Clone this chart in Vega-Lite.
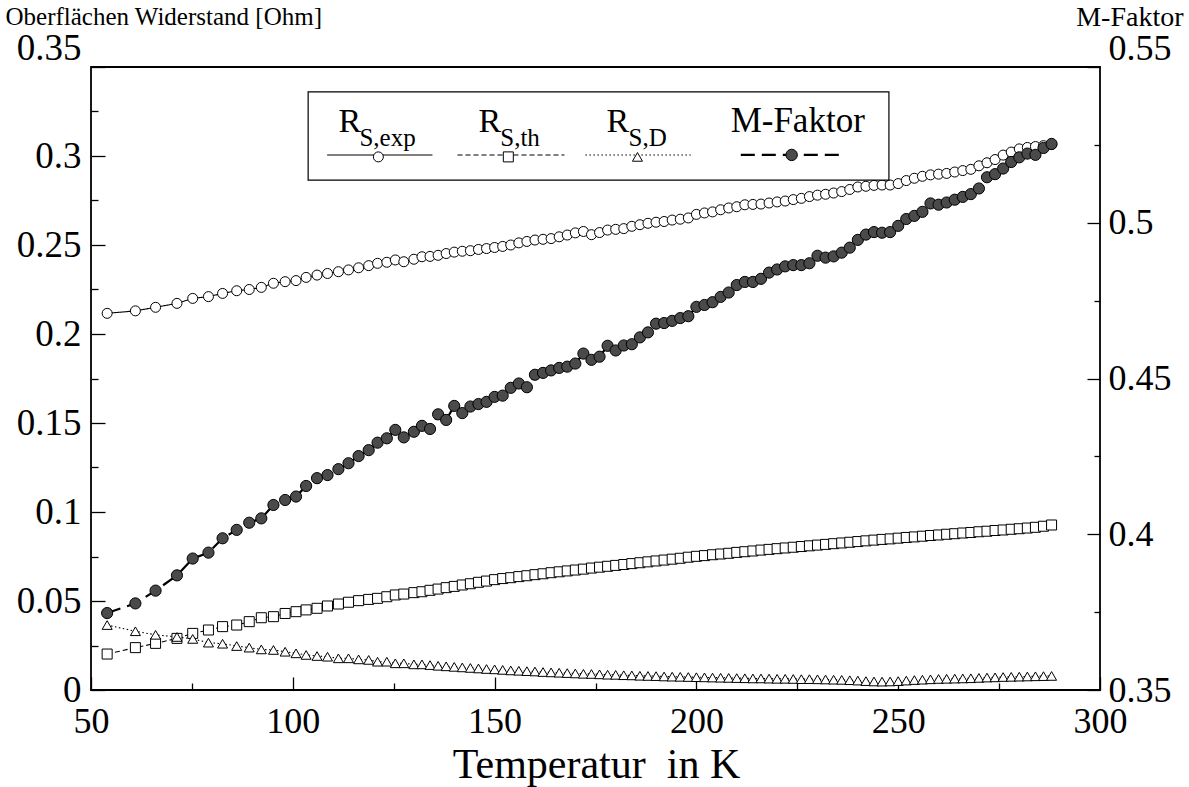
{
  "$schema": "https://vega.github.io/schema/vega-lite/v6.json",
  "width": 1009,
  "height": 623,
  "autosize": {"type": "none"},
  "padding": {"left": 91, "top": 67, "right": 89, "bottom": 97},
  "background": "white",
  "config": {
    "view": {"stroke": "black", "strokeWidth": 1.8},
    "font": "Liberation Serif",
    "axis": {"grid": false, "domain": false, "labelFont": "Liberation Serif", "titleFont": "Liberation Serif", "labelColor": "black", "titleColor": "black", "tickColor": "black", "tickWidth": 1.3, "titleFontWeight": "normal"}
  },
  "data": {"values": [
    {"T":54,"rexp":0.2116,"rth":0.0202,"rd":0.0365,"m":0.3747},
    {"T":61,"rexp":0.2130,"rth":0.0238,"rd":0.0330,"m":0.3778},
    {"T":66,"rexp":0.2150,"rth":0.0262,"rd":0.0310,"m":0.3819},
    {"T":71.3,"rexp":0.2172,"rth":0.0290,"rd":0.0298,"m":0.3868},
    {"T":75.2,"rexp":0.2200,"rth":0.0318,"rd":0.0287,"m":0.3922},
    {"T":79.1,"rexp":0.2210,"rth":0.0337,"rd":0.0266,"m":0.3941},
    {"T":82.6,"rexp":0.2228,"rth":0.0356,"rd":0.0260,"m":0.3987},
    {"T":86.1,"rexp":0.2243,"rth":0.0365,"rd":0.0247,"m":0.4014},
    {"T":89.2,"rexp":0.2250,"rth":0.0384,"rd":0.0238,"m":0.4037},
    {"T":92.2,"rexp":0.2262,"rth":0.0406,"rd":0.0228,"m":0.4051},
    {"T":95.2,"rexp":0.2285,"rth":0.0412,"rd":0.0225,"m":0.4094},
    {"T":98.1,"rexp":0.2294,"rth":0.0430,"rd":0.0215,"m":0.4110},
    {"T":100.8,"rexp":0.2300,"rth":0.0440,"rd":0.0206,"m":0.4121},
    {"T":103.3,"rexp":0.2318,"rth":0.0450,"rd":0.0197,"m":0.4155},
    {"T":106,"rexp":0.2331,"rth":0.0459,"rd":0.0191,"m":0.4180},
    {"T":108.6,"rexp":0.2340,"rth":0.0472,"rd":0.0187,"m":0.4190},
    {"T":111.3,"rexp":0.2350,"rth":0.0483,"rd":0.0178,"m":0.4209},
    {"T":113.8,"rexp":0.2360,"rth":0.0493,"rd":0.0178,"m":0.4228},
    {"T":116.3,"rexp":0.2372,"rth":0.0502,"rd":0.0172,"m":0.4251},
    {"T":118.8,"rexp":0.2384,"rth":0.0509,"rd":0.0169,"m":0.4270},
    {"T":121,"rexp":0.2397,"rth":0.0515,"rd":0.0159,"m":0.4294},
    {"T":123.3,"rexp":0.2403,"rth":0.0524,"rd":0.0159,"m":0.4308},
    {"T":125.4,"rexp":0.2416,"rth":0.0534,"rd":0.0150,"m":0.4335},
    {"T":127.5,"rexp":0.2406,"rth":0.0539,"rd":0.0150,"m":0.4311},
    {"T":130,"rexp":0.2420,"rth":0.0547,"rd":0.0144,"m":0.4329},
    {"T":132,"rexp":0.2434,"rth":0.0552,"rd":0.0144,"m":0.4348},
    {"T":134,"rexp":0.2436,"rth":0.0560,"rd":0.0140,"m":0.4338},
    {"T":136,"rexp":0.2442,"rth":0.0567,"rd":0.0136,"m":0.4385},
    {"T":138,"rexp":0.2452,"rth":0.0575,"rd":0.0133,"m":0.4367},
    {"T":140,"rexp":0.2460,"rth":0.0582,"rd":0.0130,"m":0.4412},
    {"T":142,"rexp":0.2465,"rth":0.0590,"rd":0.0127,"m":0.4389},
    {"T":144,"rexp":0.2468,"rth":0.0597,"rd":0.0124,"m":0.4410},
    {"T":146,"rexp":0.2475,"rth":0.0605,"rd":0.0121,"m":0.4418},
    {"T":148,"rexp":0.2480,"rth":0.0612,"rd":0.0118,"m":0.4425},
    {"T":150,"rexp":0.2486,"rth":0.0620,"rd":0.0116,"m":0.4441},
    {"T":152,"rexp":0.2492,"rth":0.0626,"rd":0.0113,"m":0.4445},
    {"T":154,"rexp":0.2500,"rth":0.0631,"rd":0.0110,"m":0.4470},
    {"T":156,"rexp":0.2512,"rth":0.0637,"rd":0.0108,"m":0.4484},
    {"T":158,"rexp":0.2520,"rth":0.0642,"rd":0.0106,"m":0.4472},
    {"T":160,"rexp":0.2528,"rth":0.0648,"rd":0.0104,"m":0.4512},
    {"T":162,"rexp":0.2532,"rth":0.0653,"rd":0.0101,"m":0.4518},
    {"T":164,"rexp":0.2536,"rth":0.0659,"rd":0.0099,"m":0.4526},
    {"T":166,"rexp":0.2546,"rth":0.0664,"rd":0.0097,"m":0.4534},
    {"T":168,"rexp":0.2556,"rth":0.0669,"rd":0.0095,"m":0.4538},
    {"T":170,"rexp":0.2568,"rth":0.0674,"rd":0.0093,"m":0.4548},
    {"T":172,"rexp":0.2576,"rth":0.0679,"rd":0.0091,"m":0.4580},
    {"T":174,"rexp":0.2558,"rth":0.0685,"rd":0.0090,"m":0.4560},
    {"T":176,"rexp":0.2570,"rth":0.0690,"rd":0.0088,"m":0.4570},
    {"T":178,"rexp":0.2584,"rth":0.0695,"rd":0.0086,"m":0.4605},
    {"T":180,"rexp":0.2588,"rth":0.0700,"rd":0.0085,"m":0.4590},
    {"T":182,"rexp":0.2592,"rth":0.0705,"rd":0.0083,"m":0.4606},
    {"T":184,"rexp":0.2605,"rth":0.0710,"rd":0.0082,"m":0.4610},
    {"T":186,"rexp":0.2614,"rth":0.0715,"rd":0.0080,"m":0.4632},
    {"T":188,"rexp":0.2622,"rth":0.0720,"rd":0.0079,"m":0.4648},
    {"T":190,"rexp":0.2628,"rth":0.0725,"rd":0.0078,"m":0.4676},
    {"T":192,"rexp":0.2632,"rth":0.0730,"rd":0.0076,"m":0.4678},
    {"T":194,"rexp":0.2640,"rth":0.0735,"rd":0.0075,"m":0.4685},
    {"T":196,"rexp":0.2645,"rth":0.0740,"rd":0.0074,"m":0.4694},
    {"T":198,"rexp":0.2652,"rth":0.0746,"rd":0.0073,"m":0.4700},
    {"T":200,"rexp":0.2672,"rth":0.0751,"rd":0.0072,"m":0.4730},
    {"T":202,"rexp":0.2680,"rth":0.0755,"rd":0.0071,"m":0.4736},
    {"T":204,"rexp":0.2686,"rth":0.0760,"rd":0.0070,"m":0.4745},
    {"T":206,"rexp":0.2698,"rth":0.0764,"rd":0.0069,"m":0.4762},
    {"T":208,"rexp":0.2708,"rth":0.0768,"rd":0.0068,"m":0.4776},
    {"T":210,"rexp":0.2715,"rth":0.0773,"rd":0.0067,"m":0.4800},
    {"T":212,"rexp":0.2726,"rth":0.0777,"rd":0.0066,"m":0.4810},
    {"T":214,"rexp":0.2728,"rth":0.0781,"rd":0.0065,"m":0.4810},
    {"T":216,"rexp":0.2730,"rth":0.0786,"rd":0.0065,"m":0.4820},
    {"T":218,"rexp":0.2736,"rth":0.0790,"rd":0.0064,"m":0.4840},
    {"T":220,"rexp":0.2742,"rth":0.0794,"rd":0.0063,"m":0.4850},
    {"T":222,"rexp":0.2747,"rth":0.0798,"rd":0.0063,"m":0.4860},
    {"T":224,"rexp":0.2755,"rth":0.0802,"rd":0.0062,"m":0.4864},
    {"T":226,"rexp":0.2762,"rth":0.0806,"rd":0.0061,"m":0.4864},
    {"T":228,"rexp":0.2772,"rth":0.0810,"rd":0.0061,"m":0.4870},
    {"T":230,"rexp":0.2780,"rth":0.0814,"rd":0.0060,"m":0.4894},
    {"T":232,"rexp":0.2785,"rth":0.0818,"rd":0.0059,"m":0.4888},
    {"T":234,"rexp":0.2792,"rth":0.0822,"rd":0.0058,"m":0.4892},
    {"T":236,"rexp":0.2800,"rth":0.0826,"rd":0.0057,"m":0.4904},
    {"T":238,"rexp":0.2812,"rth":0.0830,"rd":0.0055,"m":0.4920},
    {"T":240,"rexp":0.2826,"rth":0.0834,"rd":0.0053,"m":0.4945},
    {"T":242,"rexp":0.2830,"rth":0.0838,"rd":0.0050,"m":0.4962},
    {"T":244,"rexp":0.2835,"rth":0.0842,"rd":0.0048,"m":0.4970},
    {"T":246,"rexp":0.2837,"rth":0.0846,"rd":0.0047,"m":0.4968},
    {"T":248,"rexp":0.2837,"rth":0.0849,"rd":0.0048,"m":0.4970},
    {"T":250,"rexp":0.2845,"rth":0.0853,"rd":0.0050,"m":0.4990},
    {"T":252,"rexp":0.2862,"rth":0.0857,"rd":0.0053,"m":0.5012},
    {"T":254,"rexp":0.2875,"rth":0.0860,"rd":0.0056,"m":0.5022},
    {"T":256,"rexp":0.2886,"rth":0.0864,"rd":0.0058,"m":0.5035},
    {"T":258,"rexp":0.2894,"rth":0.0868,"rd":0.0060,"m":0.5062},
    {"T":260,"rexp":0.2898,"rth":0.0871,"rd":0.0062,"m":0.5058},
    {"T":262,"rexp":0.2902,"rth":0.0875,"rd":0.0063,"m":0.5065},
    {"T":264,"rexp":0.2910,"rth":0.0878,"rd":0.0064,"m":0.5074},
    {"T":266,"rexp":0.2918,"rth":0.0882,"rd":0.0065,"m":0.5083},
    {"T":268,"rexp":0.2925,"rth":0.0885,"rd":0.0066,"m":0.5092},
    {"T":270,"rexp":0.2945,"rth":0.0889,"rd":0.0068,"m":0.5110},
    {"T":272,"rexp":0.2962,"rth":0.0892,"rd":0.0070,"m":0.5146},
    {"T":274,"rexp":0.2980,"rth":0.0896,"rd":0.0071,"m":0.5156},
    {"T":276,"rexp":0.3005,"rth":0.0899,"rd":0.0073,"m":0.5174},
    {"T":278,"rexp":0.3022,"rth":0.0903,"rd":0.0074,"m":0.5195},
    {"T":280,"rexp":0.3040,"rth":0.0906,"rd":0.0075,"m":0.5210},
    {"T":282,"rexp":0.3048,"rth":0.0910,"rd":0.0076,"m":0.5222},
    {"T":284,"rexp":0.3053,"rth":0.0914,"rd":0.0077,"m":0.5218},
    {"T":286,"rexp":0.3058,"rth":0.0920,"rd":0.0078,"m":0.5240},
    {"T":288,"rexp":0.3064,"rth":0.0927,"rd":0.0079,"m":0.5253}
  ]},
  "layer": [
    {
      "layer": [
        {
          "transform": [{"fold": ["rexp", "rth", "rd"], "as": ["series", "val"]}],
          "encoding": {
            "x": {"field": "T", "type": "quantitative", "scale": {"domain": [50, 300], "nice": false, "zero": false},
              "axis": {"orient": "bottom", "values": [50,75,100,125,150,175,200,225,250,275,300], "labelExpr": "datum.value % 50 === 0 ? datum.label : ''",
                "tickSize": {"condition": {"test": "datum.value % 50 === 0", "value": -13}, "value": -7},
                "labelPadding": 27, "labelFontSize": 36, "labelFlush": false, "labelOverlap": false,
                "title": "Temperatur\u00a0 in K", "titleFontSize": 42, "titleBaseline": "alphabetic", "titleY": 87, "titleX": 505}},
            "y": {"field": "val", "type": "quantitative", "scale": {"domain": [0, 0.35], "nice": false, "zero": false},
              "axis": {"orient": "left", "values": [0,0.025,0.05,0.075,0.1,0.125,0.15,0.175,0.2,0.225,0.25,0.275,0.3,0.325,0.35],
                "format": ".2~f", "labelExpr": "round(datum.value*1000) % 50 === 0 ? datum.label : ''",
                "tickSize": {"condition": {"test": "round(datum.value*1000) % 50 === 0", "value": -14}, "value": -7},
                "labelPadding": 24, "labelFontSize": 37, "labelOverlap": false, "labelFlush": false,
                "labelBaseline": {"condition": {"test": "datum.value > 0.34", "value": "bottom"}, "value": "middle"},
                "title": "Oberflächen Widerstand [Ohm]", "titleFontSize": 25, "titleAngle": 0, "titleAlign": "left", "titleBaseline": "alphabetic", "titleX": -86, "titleY": -43}}
          },
          "layer": [
            {"mark": {"type": "line", "color": "black", "strokeWidth": 1.1},
             "encoding": {"strokeDash": {"field": "series", "type": "nominal", "scale": {"domain": ["rexp", "rth", "rd"], "range": [[1, 0], [5, 3], [1.5, 2.5]]}, "legend": null}}},
            {"mark": {"type": "point", "filled": true, "fill": "white", "stroke": "black", "strokeWidth": 1, "size": 100, "opacity": 1},
             "encoding": {"shape": {"field": "series", "type": "nominal", "scale": {"domain": ["rexp", "rth", "rd"], "range": ["circle", "square", "triangle-up"]}, "legend": null}}}
          ]
        },
        {"data": {"values": [{}]}, "mark": {"type": "rect", "fill": "white", "stroke": "black", "strokeWidth": 1.2},
         "encoding": {"x": {"datum": 103.8}, "x2": {"datum": 247.7}, "y": {"datum": 0.336}, "y2": {"datum": 0.2865}}},
        {"data": {"values": [{}]}, "mark": {"type": "rule", "color": "black", "strokeWidth": 1.1},
         "encoding": {"x": {"datum": 108.5}, "x2": {"datum": 134.6}, "y": {"datum": 0.3006}}},
        {"data": {"values": [{}]}, "mark": {"type": "rule", "color": "black", "strokeWidth": 1.1, "strokeDash": [5, 3]},
         "encoding": {"x": {"datum": 140.8}, "x2": {"datum": 167.3}, "y": {"datum": 0.3006}}},
        {"data": {"values": [{}]}, "mark": {"type": "rule", "color": "black", "strokeWidth": 1.1, "strokeDash": [1.5, 2.5]},
         "encoding": {"x": {"datum": 172.5}, "x2": {"datum": 198.6}, "y": {"datum": 0.3006}}},
        {"data": {"values": [{}]}, "mark": {"type": "rule", "color": "black", "strokeWidth": 2.2, "strokeDash": [14, 7]},
         "encoding": {"x": {"datum": 211.0}, "x2": {"datum": 235.3}, "y": {"datum": 0.3006}}},
        {"data": {"values": [{}]}, "mark": {"type": "point", "shape": "circle", "filled": true, "fill": "white", "stroke": "black", "strokeWidth": 1, "size": 100, "opacity": 1},
         "encoding": {"x": {"datum": 121.2}, "y": {"datum": 0.2995}}},
        {"data": {"values": [{}]}, "mark": {"type": "point", "shape": "square", "filled": true, "fill": "white", "stroke": "black", "strokeWidth": 1, "size": 100, "opacity": 1},
         "encoding": {"x": {"datum": 153.4}, "y": {"datum": 0.2995}}},
        {"data": {"values": [{}]}, "mark": {"type": "point", "shape": "triangle-up", "filled": true, "fill": "white", "stroke": "black", "strokeWidth": 1, "size": 100, "opacity": 1},
         "encoding": {"x": {"datum": 185.4}, "y": {"datum": 0.2995}}},
        {"data": {"values": [{}]}, "mark": {"type": "point", "shape": "circle", "filled": true, "fill": "#4a4a4a", "stroke": "black", "strokeWidth": 1, "size": 130, "opacity": 1},
         "encoding": {"x": {"datum": 223.6}, "y": {"datum": 0.3006}}},
        {"data": {"values": [{}]}, "mark": {"type": "text", "text": "R", "font": "Liberation Serif", "fontSize": 34, "align": "left", "baseline": "alphabetic", "color": "black"},
         "encoding": {"x": {"datum": 111.3}, "y": {"datum": 0.3135}}},
        {"data": {"values": [{}]}, "mark": {"type": "text", "text": "S,exp", "font": "Liberation Serif", "fontSize": 25, "align": "left", "baseline": "alphabetic", "color": "black"},
         "encoding": {"x": {"datum": 116.5}, "y": {"datum": 0.3056}}},
        {"data": {"values": [{}]}, "mark": {"type": "text", "text": "R", "font": "Liberation Serif", "fontSize": 34, "align": "left", "baseline": "alphabetic", "color": "black"},
         "encoding": {"x": {"datum": 146.0}, "y": {"datum": 0.3135}}},
        {"data": {"values": [{}]}, "mark": {"type": "text", "text": "S,th", "font": "Liberation Serif", "fontSize": 25, "align": "left", "baseline": "alphabetic", "color": "black"},
         "encoding": {"x": {"datum": 151.4}, "y": {"datum": 0.3056}}},
        {"data": {"values": [{}]}, "mark": {"type": "text", "text": "R", "font": "Liberation Serif", "fontSize": 34, "align": "left", "baseline": "alphabetic", "color": "black"},
         "encoding": {"x": {"datum": 177.7}, "y": {"datum": 0.3135}}},
        {"data": {"values": [{}]}, "mark": {"type": "text", "text": "S,D", "font": "Liberation Serif", "fontSize": 25, "align": "left", "baseline": "alphabetic", "color": "black"},
         "encoding": {"x": {"datum": 183.2}, "y": {"datum": 0.3056}}},
        {"data": {"values": [{}]}, "mark": {"type": "text", "text": "M-Faktor", "font": "Liberation Serif", "fontSize": 35, "align": "center", "baseline": "alphabetic", "color": "black"},
         "encoding": {"x": {"datum": 225.1}, "y": {"datum": 0.3135}}}
      ]
    },
    {
      "encoding": {
        "x": {"field": "T", "type": "quantitative"},
        "y": {"field": "m", "type": "quantitative", "scale": {"domain": [0.35, 0.55], "nice": false, "zero": false},
          "axis": {"orient": "right", "values": [0.35,0.375,0.4,0.425,0.45,0.475,0.5,0.525,0.55],
            "format": ".2~f", "labelExpr": "round(datum.value*1000) % 50 === 0 ? datum.label : ''",
            "tickSize": {"condition": {"test": "round(datum.value*1000) % 50 === 0", "value": -13}, "value": -6},
            "labelPadding": 21, "labelFontSize": 36, "labelOverlap": false, "labelFlush": false,
            "labelBaseline": {"condition": {"test": "datum.value > 0.54", "value": "bottom"}, "value": "middle"},
            "title": "M-Faktor", "titleFontSize": 28, "titleAngle": 0, "titleAlign": "right", "titleBaseline": "alphabetic", "titleX": 83, "titleY": -42}}
      },
      "layer": [
        {"mark": {"type": "line", "color": "black", "strokeWidth": 2.2, "strokeDash": [14, 7]}},
        {"mark": {"type": "point", "shape": "circle", "filled": true, "fill": "#4a4a4a", "stroke": "black", "strokeWidth": 1, "size": 125, "opacity": 1}}
      ]
    }
  ],
  "resolve": {"scale": {"y": "independent"}}
}
